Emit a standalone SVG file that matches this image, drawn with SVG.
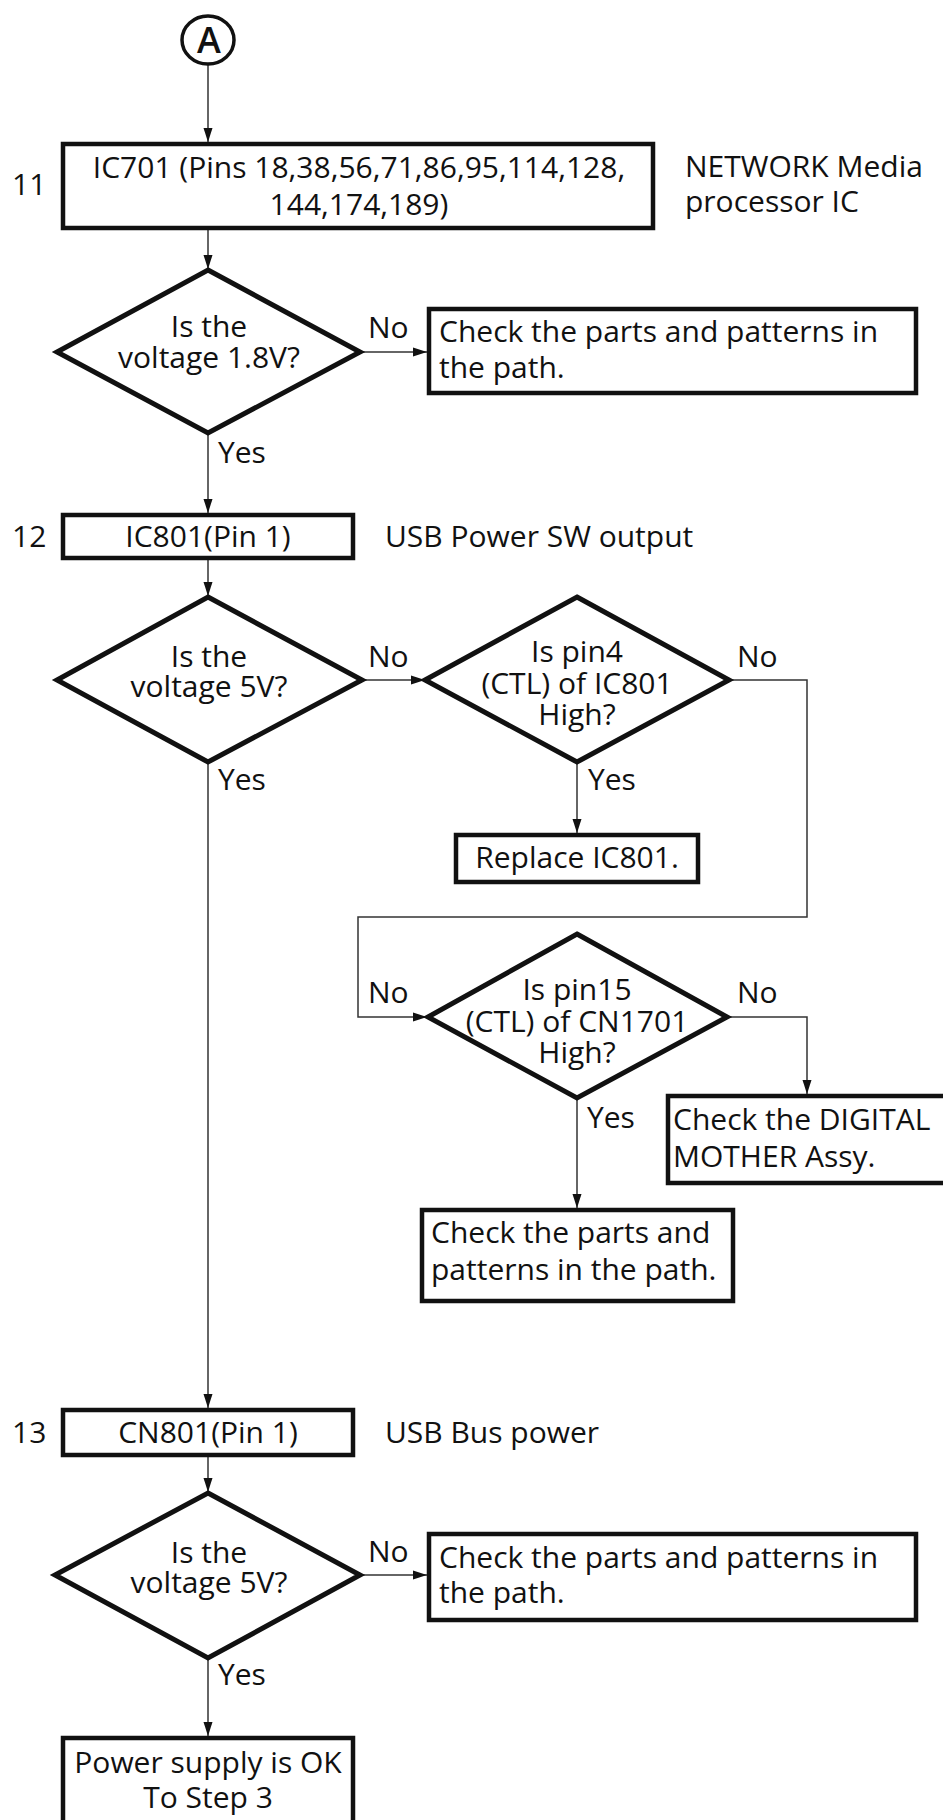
<svg xmlns="http://www.w3.org/2000/svg" width="943" height="1820" viewBox="0 0 943 1820">
<style>
text{font-family:"Open Sans","Liberation Sans",sans-serif;font-size:30px;fill:#111}
.c{text-anchor:middle}
.box{fill:#fff;stroke:#111;stroke-width:4.5}
.dia{fill:#fff;stroke:#111;stroke-width:5;stroke-linejoin:miter}
.ln{fill:none;stroke:#333;stroke-width:1.5}
</style>
<defs>
<marker id="ah" viewBox="0 0 14 10" refX="14" refY="5" markerWidth="14" markerHeight="10" markerUnits="userSpaceOnUse" orient="auto">
<path d="M0,0.5 L14,5 L0,9.5 Z" fill="#111"/>
</marker>
</defs>
<rect width="943" height="1820" fill="#fff"/>
<g id="connectors">
<line class="ln" x1="208" y1="65" x2="208" y2="142" marker-end="url(#ah)"/>
<line class="ln" x1="208" y1="230" x2="208" y2="269" marker-end="url(#ah)"/>
<line class="ln" x1="360" y1="352" x2="427" y2="352" marker-end="url(#ah)"/>
<line class="ln" x1="208" y1="433" x2="208" y2="513" marker-end="url(#ah)"/>
<line class="ln" x1="208" y1="560" x2="208" y2="596" marker-end="url(#ah)"/>
<line class="ln" x1="362" y1="680" x2="425" y2="680" marker-end="url(#ah)"/>
<line class="ln" x1="577" y1="762" x2="577" y2="833" marker-end="url(#ah)"/>
<polyline class="ln" points="729,680 807,680 807,917 358,917 358,1017 427,1017" marker-end="url(#ah)"/>
<polyline class="ln" points="727,1017 807,1017 807,1094" marker-end="url(#ah)"/>
<line class="ln" x1="577" y1="1098" x2="577" y2="1208" marker-end="url(#ah)"/>
<line class="ln" x1="208" y1="762" x2="208" y2="1408" marker-end="url(#ah)"/>
<line class="ln" x1="208" y1="1457" x2="208" y2="1492" marker-end="url(#ah)"/>
<line class="ln" x1="360" y1="1575" x2="427" y2="1575" marker-end="url(#ah)"/>
<line class="ln" x1="208" y1="1658" x2="208" y2="1736" marker-end="url(#ah)"/>
</g>
<g id="labels">
<text x="368" y="338">No</text>
<text x="218" y="463">Yes</text>
<text x="368" y="667">No</text>
<text x="737" y="667">No</text>
<text x="218" y="790">Yes</text>
<text x="588" y="790">Yes</text>
<text x="368" y="1003">No</text>
<text x="737" y="1003">No</text>
<text x="587" y="1128">Yes</text>
<text x="368" y="1562">No</text>
<text x="218" y="1685">Yes</text>
</g>
<g id="start">
<ellipse cx="208" cy="40" rx="26" ry="24" fill="#fff" stroke="#111" stroke-width="3.5"/>
<text class="c" x="209" y="53" style="font-size:36px;font-weight:600">A</text>
</g>
<g id="step11">
<text x="12" y="195">11</text>
<rect class="box" x="63" y="144" width="590" height="84"/>
<text class="c" x="359" y="178">IC701 (Pins 18,38,56,71,86,95,114,128,</text>
<text class="c" x="359" y="215">144,174,189)</text>
<text x="685" y="177">NETWORK Media</text>
<text x="685" y="212">processor IC</text>
</g>
<g id="q1">
<polygon class="dia" points="208,270 360,352 208,433 57,352"/>
<text class="c" x="209" y="337">Is the</text>
<text class="c" x="209" y="368">voltage 1.8V?</text>
</g>
<g id="fix1">
<rect class="box" x="429" y="309" width="487" height="84"/>
<text x="439" y="342">Check the parts and patterns in</text>
<text x="439" y="378">the path.</text>
</g>
<g id="step12">
<text x="12" y="547">12</text>
<rect class="box" x="63" y="515" width="290" height="43"/>
<text class="c" x="208" y="547">IC801(Pin 1)</text>
<text x="385" y="547">USB Power SW output</text>
</g>
<g id="q2">
<polygon class="dia" points="208,597 362,680 208,762 57,680"/>
<text class="c" x="209" y="667">Is the</text>
<text class="c" x="209" y="697">voltage 5V?</text>
</g>
<g id="q3">
<polygon class="dia" points="577,597 729,680 577,762 425,680"/>
<text class="c" x="577" y="662">Is pin4</text>
<text class="c" x="577" y="694">(CTL) of IC801</text>
<text class="c" x="577" y="725">High?</text>
</g>
<g id="replace">
<rect class="box" x="456" y="835" width="242" height="47"/>
<text class="c" x="577" y="868">Replace IC801.</text>
</g>
<g id="q4">
<polygon class="dia" points="577,934 727,1017 577,1098 428,1017"/>
<text class="c" x="577" y="1000">Is pin15</text>
<text class="c" x="577" y="1032">(CTL) of CN1701</text>
<text class="c" x="577" y="1063">High?</text>
</g>
<g id="digital">
<rect class="box" x="668" y="1096" width="300" height="87"/>
<text x="673" y="1130">Check the DIGITAL</text>
<text x="673" y="1167">MOTHER Assy.</text>
</g>
<g id="fix2">
<rect class="box" x="422" y="1210" width="311" height="91"/>
<text x="431" y="1243">Check the parts and</text>
<text x="431" y="1280">patterns in the path.</text>
</g>
<g id="step13">
<text x="12" y="1443">13</text>
<rect class="box" x="63" y="1410" width="290" height="45"/>
<text class="c" x="208" y="1443">CN801(Pin 1)</text>
<text x="385" y="1443">USB Bus power</text>
</g>
<g id="q5">
<polygon class="dia" points="208,1493 360,1575 208,1658 55,1575"/>
<text class="c" x="209" y="1563">Is the</text>
<text class="c" x="209" y="1593">voltage 5V?</text>
</g>
<g id="fix3">
<rect class="box" x="429" y="1534" width="487" height="86"/>
<text x="439" y="1568">Check the parts and patterns in</text>
<text x="439" y="1603">the path.</text>
</g>
<g id="ok">
<rect class="box" x="63" y="1738" width="290" height="120"/>
<text class="c" x="208" y="1773">Power supply is OK</text>
<text class="c" x="208" y="1808">To Step 3</text>
</g>
</svg>
